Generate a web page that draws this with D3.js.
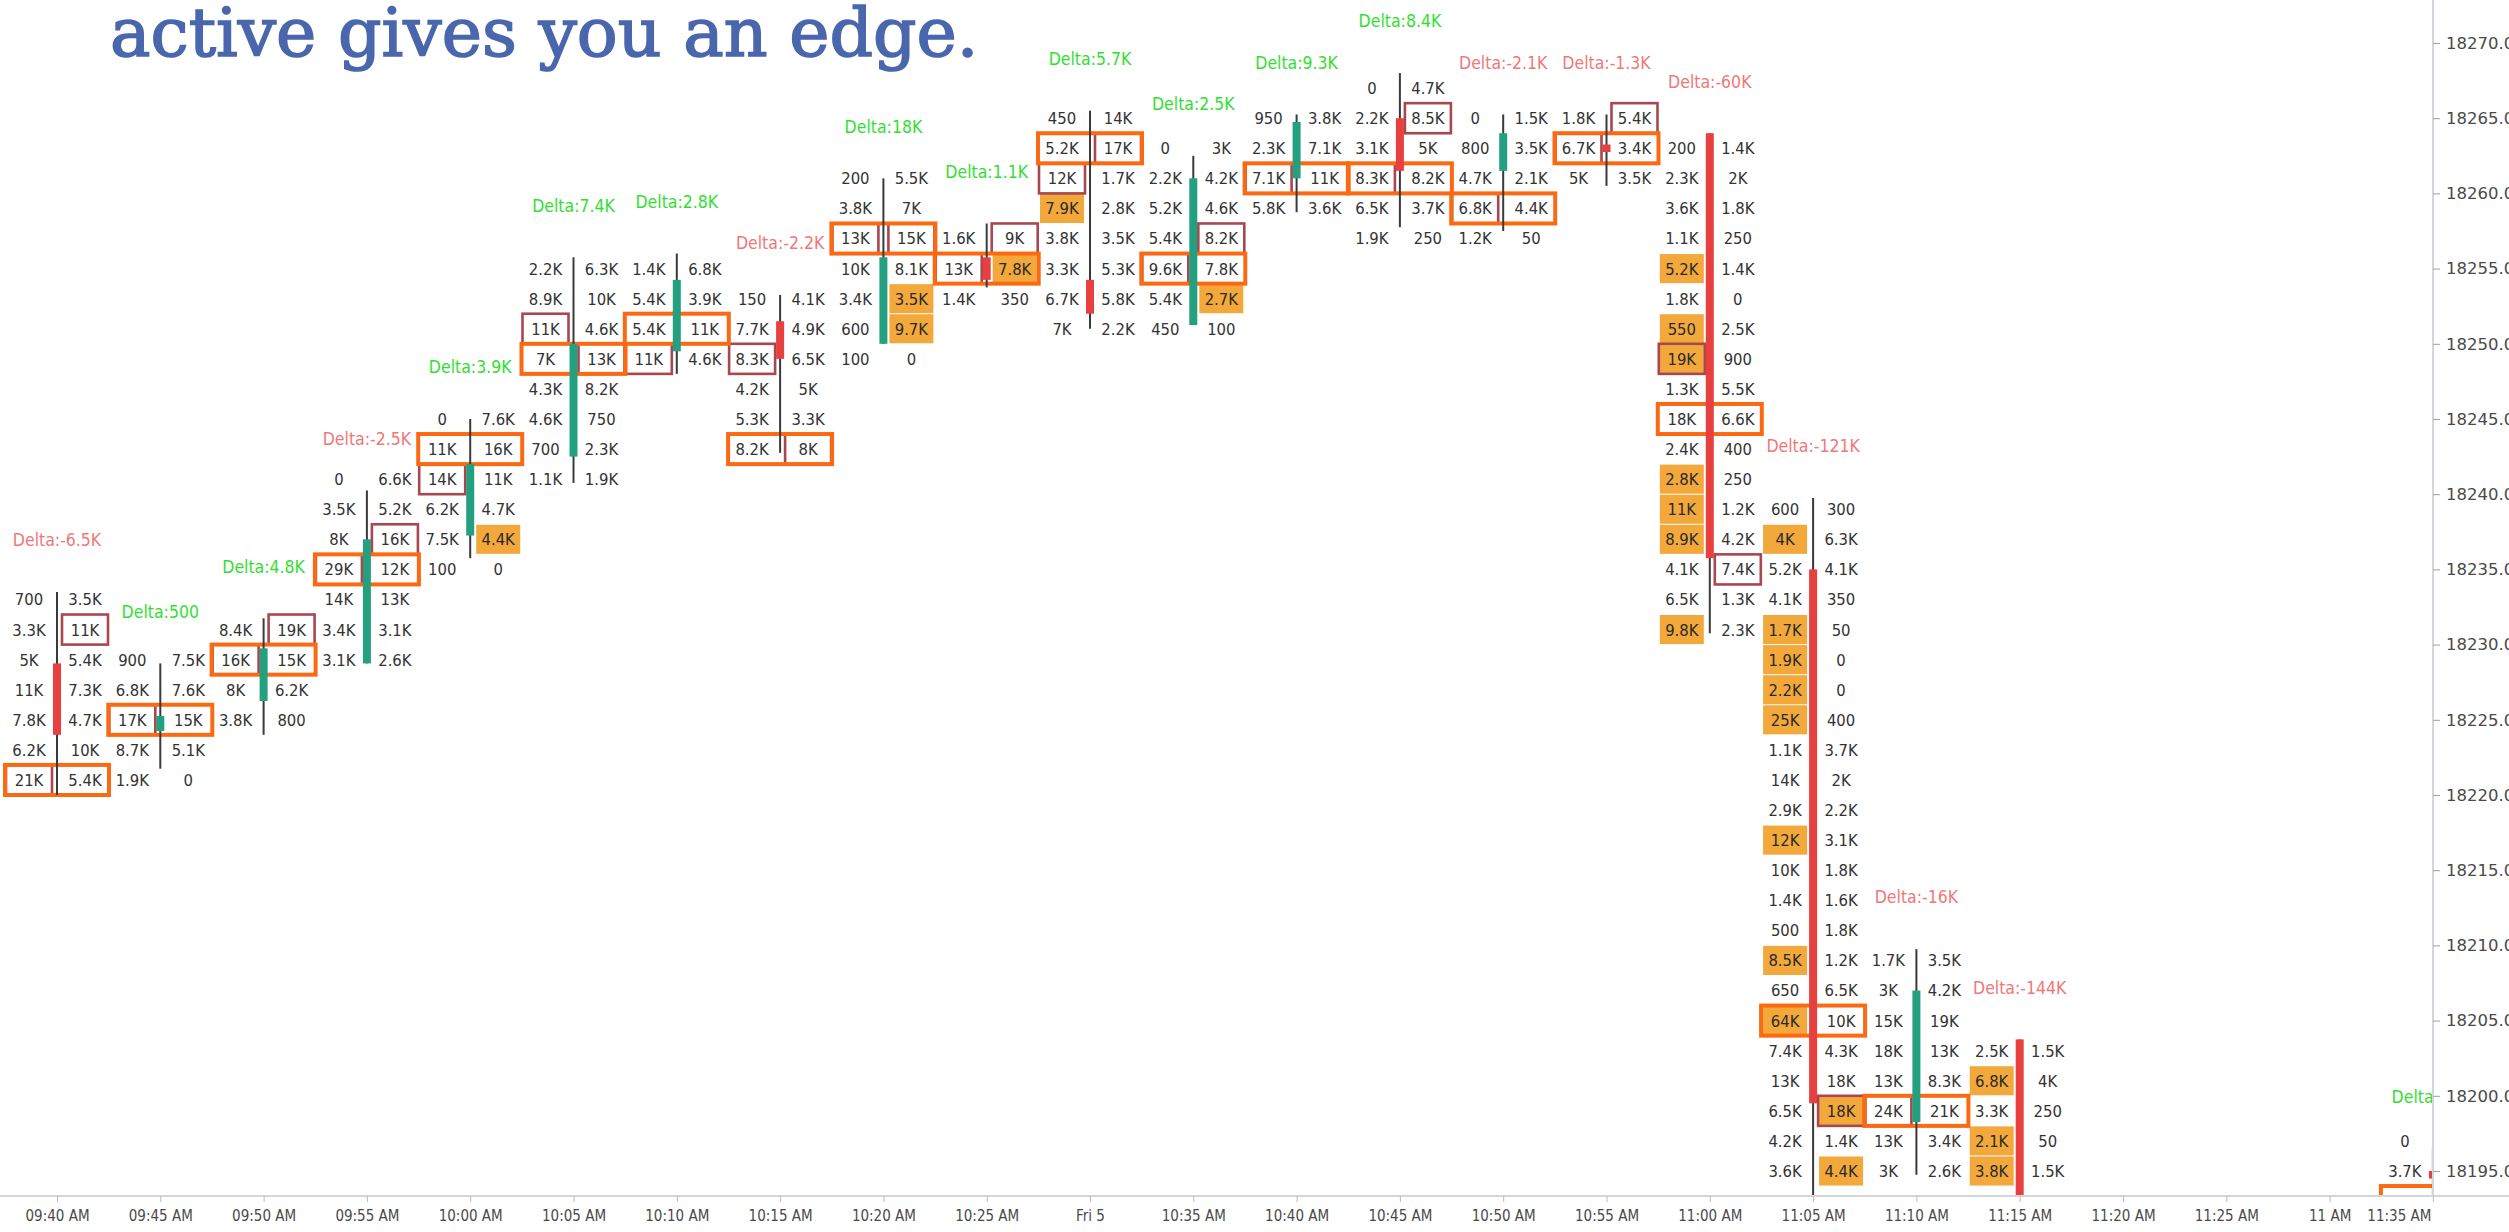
<!DOCTYPE html>
<html><head><meta charset="utf-8">
<script src="https://cdn.jsdelivr.net/npm/d3@7"></script>
<style>
body{margin:0;background:#fff;overflow:hidden}
svg{display:block}
</style>
</head><body>
<svg id="chart" width="2509" height="1232"></svg>
<script>
// ---------- DATA ----------
const tickLabels = ["09:40 AM","09:45 AM","09:50 AM","09:55 AM","10:00 AM","10:05 AM","10:10 AM","10:15 AM","10:20 AM","10:25 AM","Fri 5","10:35 AM","10:40 AM","10:45 AM","10:50 AM","10:55 AM","11:00 AM","11:05 AM","11:10 AM","11:15 AM","11:20 AM","11:25 AM","11 AM","11:35 AM"];
const priceTicks = [18195,18200,18205,18210,18215,18220,18225,18230,18235,18240,18245,18250,18255,18260,18265,18270];

const slots  = [0,1,2,3,4,5,6,7,8,9,10,11,12,13,14,15,16,17,18,19,23];
const opens  = [18228.75,18224.25,18226.25,18228.75,18237.25,18242.5,18249.5,18251.5,18250,18255.75,18254.25,18251.25,18261,18265,18261.5,18263.25,18264,18235,18198.25,18203.75,18195];
const highs  = [18233.5,18228.75,18231.75,18240.25,18245,18255.75,18256,18253.25,18261,18258,18265.5,18262.5,18265.25,18268,18265.25,18265.25,18264,18239.75,18209.75,18203.75,18196.5];
const lows   = [18220,18221.75,18224,18228.75,18235.75,18240.75,18248,18242.75,18250,18253.75,18251,18251.25,18258.75,18257.75,18257.5,18260.5,18230.75,18190,18194.75,18188,18190];
const closes = [18224,18225.25,18229.75,18237,18242,18250,18254.25,18249,18255.75,18254.25,18252,18261,18264.75,18261.5,18264,18262.75,18235.75,18199.5,18207,18190,18194.5];
const deltaLabels = ["Delta:-6.5K","Delta:500","Delta:4.8K","Delta:-2.5K","Delta:3.9K","Delta:7.4K","Delta:2.8K","Delta:-2.2K","Delta:18K","Delta:1.1K","Delta:5.7K","Delta:2.5K","Delta:9.3K","Delta:8.4K","Delta:-2.1K","Delta:-1.3K","Delta:-60K","Delta:-121K","Delta:-16K","Delta:-144K","Delta:2.1K"];

// price of the top footprint row of each candle (rows step down 2 points)
const topRow = [18233,18229,18231,18241,18245,18255,18255,18253,18261,18257,18265,18263,18265,18267,18265,18265,18263,18239,18209,18203,18197];

const bids = [
 ["700","3.3K","5K","11K","7.8K","6.2K","21K"],
 ["900","6.8K","17K","8.7K","1.9K"],
 ["8.4K","16K","8K","3.8K"],
 ["0","3.5K","8K","29K","14K","3.4K","3.1K"],
 ["0","11K","14K","6.2K","7.5K","100"],
 ["2.2K","8.9K","11K","7K","4.3K","4.6K","700","1.1K"],
 ["1.4K","5.4K","5.4K","11K"],
 ["150","7.7K","8.3K","4.2K","5.3K","8.2K"],
 ["200","3.8K","13K","10K","3.4K","600","100"],
 ["1.6K","13K","1.4K"],
 ["450","5.2K","12K","7.9K","3.8K","3.3K","6.7K","7K"],
 ["0","2.2K","5.2K","5.4K","9.6K","5.4K","450"],
 ["950","2.3K","7.1K","5.8K"],
 ["0","2.2K","3.1K","8.3K","6.5K","1.9K"],
 ["0","800","4.7K","6.8K","1.2K"],
 ["1.8K","6.7K","5K"],
 ["200","2.3K","3.6K","1.1K","5.2K","1.8K","550","19K","1.3K","18K","2.4K","2.8K","11K","8.9K","4.1K","6.5K","9.8K"],
 ["600","4K","5.2K","4.1K","1.7K","1.9K","2.2K","25K","1.1K","14K","2.9K","12K","10K","1.4K","500","8.5K","650","64K","7.4K","13K","6.5K","4.2K","3.6K"],
 ["1.7K","3K","15K","18K","13K","24K","13K","3K"],
 ["2.5K","6.8K","3.3K","2.1K","3.8K"],
 ["0","3.7K",""]
];
const asks = [
 ["3.5K","11K","5.4K","7.3K","4.7K","10K","5.4K"],
 ["7.5K","7.6K","15K","5.1K","0"],
 ["19K","15K","6.2K","800"],
 ["6.6K","5.2K","16K","12K","13K","3.1K","2.6K"],
 ["7.6K","16K","11K","4.7K","4.4K","0"],
 ["6.3K","10K","4.6K","13K","8.2K","750","2.3K","1.9K"],
 ["6.8K","3.9K","11K","4.6K"],
 ["4.1K","4.9K","6.5K","5K","3.3K","8K"],
 ["5.5K","7K","15K","8.1K","3.5K","9.7K","0"],
 ["9K","7.8K","350"],
 ["14K","17K","1.7K","2.8K","3.5K","5.3K","5.8K","2.2K"],
 ["3K","4.2K","4.6K","8.2K","7.8K","2.7K","100"],
 ["3.8K","7.1K","11K","3.6K"],
 ["4.7K","8.5K","5K","8.2K","3.7K","250"],
 ["1.5K","3.5K","2.1K","4.4K","50"],
 ["5.4K","3.4K","3.5K"],
 ["1.4K","2K","1.8K","250","1.4K","0","2.5K","900","5.5K","6.6K","400","250","1.2K","4.2K","7.4K","1.3K","2.3K"],
 ["300","6.3K","4.1K","350","50","0","0","400","3.7K","2K","2.2K","3.1K","1.8K","1.6K","1.8K","1.2K","6.5K","10K","4.3K","18K","18K","1.4K","4.4K"],
 ["3.5K","4.2K","19K","13K","8.3K","21K","3.4K","2.6K"],
 ["1.5K","4K","250","50","1.5K"],
 ["","",""]
];
// imbalance marks per row: '.' none, 'f' stacked (filled), 'b' imbalance box, 'x' both
const bidMarks = ["......b","..b..",".b..","...b...","..b...","..b.....","...b","..b...","..b....",".b.","..bf....","....b..","..b.","...b..","...b.",".b.","....f.fx...fff..f",".f..ffff...f...f.f.....",".....b..",".f.ff","..."];
const askMarks = [".b.....",".....","b...","..b....","....f.","...b....","....",".....b","..b.ff.","bf.",".b......","...b.f.","....",".b....",".....","b..","..............b..","....................x.f","........",".....","..."];
// row index of the point of control (highest volume) per candle, -1 = not visible
const pocRow = [6,2,1,3,1,3,2,5,2,1,1,4,2,3,3,1,9,17,5,-1,2];

// ---------- LAYOUT ----------
const W = 2509, H = 1232;
const plotRight = 2433, plotBottom = 1196;
const svg = d3.select("#chart");
const xs = d3.scaleLinear().domain([0, 23]).range([57, 57 + 23 * 103.3]);
const ys = d3.scaleLinear().domain([18270, 18195]).range([43, 43 + 75 * 15.04]);
const rowH = ys(0) - ys(2);

const cellFont = "'DejaVu Sans Condensed','DejaVu Sans',sans-serif";
const C = {
  amber: "#f2a83b", box: "#a9474f", poc: "#fb6a12",
  up: "#22a07f", down: "#e8403f", wick: "#3a3a3a",
  dUp: "#33de33", dDown: "#f07878", text: "#333"
};

svg.append("defs").append("clipPath").attr("id", "plotClip")
  .append("rect").attr("x", 0).attr("y", 0).attr("width", plotRight).attr("height", plotBottom);

const plot = svg.append("g").attr("clip-path", "url(#plotClip)");

const candles = slots.map((s, i) => ({
  i, X: xs(s), o: opens[i], h: highs[i], l: lows[i], c: closes[i],
  delta: deltaLabels[i],
  rows: bids[i].map((b, r) => ({
    price: topRow[i] - 2 * r, bid: b, ask: asks[i][r],
    bm: bidMarks[i][r], am: askMarks[i][r], poc: pocRow[i] === r
  }))
}));

const cells = [];
candles.forEach(cd => cd.rows.forEach(r => {
  cells.push({X: cd.X, side: -1, v: r.bid, m: r.bm, p: r.price});
  cells.push({X: cd.X, side: 1, v: r.ask, m: r.am, p: r.price});
}));

// amber fills
plot.append("g").selectAll("rect").data(cells.filter(d => d.m === "f" || d.m === "x")).join("rect")
  .attr("x", d => d.side < 0 ? d.X - 50 : d.X + 6)
  .attr("y", d => ys(d.p) - rowH / 2 + 0.5)
  .attr("width", 44).attr("height", rowH - 1)
  .attr("fill", C.amber);

// imbalance boxes
plot.append("g").selectAll("rect").data(cells.filter(d => d.m === "b" || d.m === "x")).join("rect")
  .attr("x", d => d.side < 0 ? d.X - 51 : d.X + 5)
  .attr("y", d => ys(d.p) - rowH / 2)
  .attr("width", 46).attr("height", rowH)
  .attr("fill", "none").attr("stroke", C.box).attr("stroke-width", 2.6);

// POC boxes
const pocs = [];
candles.forEach(cd => cd.rows.forEach(r => { if (r.poc) pocs.push({X: cd.X, p: r.price}); }));
plot.append("g").selectAll("rect").data(pocs).join("rect")
  .attr("x", d => d.X - 52).attr("y", d => ys(d.p) - rowH / 2)
  .attr("width", 104).attr("height", rowH)
  .attr("fill", "none").attr("stroke", C.poc).attr("stroke-width", 4);

// cell texts
plot.append("g").selectAll("text").data(cells.filter(d => d.v !== "")).join("text")
  .attr("x", d => d.X + d.side * 28)
  .attr("y", d => ys(d.p))
  .attr("dy", "0.36em")
  .attr("text-anchor", "middle")
  .attr("font-family", cellFont).attr("font-size", 16.5)
  .attr("fill", d => (d.m === "f" || d.m === "x") ? "#2a2a2a" : C.text)
  .text(d => d.v);

// candles
const cg = plot.append("g").selectAll("g").data(candles).join("g");
cg.append("line")
  .attr("x1", d => d.X).attr("x2", d => d.X)
  .attr("y1", d => ys(d.h)).attr("y2", d => ys(d.l))
  .attr("stroke", C.wick).attr("stroke-width", 2);
cg.append("rect")
  .attr("x", d => d.X - 4).attr("width", 8)
  .attr("y", d => ys(Math.max(d.o, d.c)))
  .attr("height", d => Math.max(3, Math.abs(ys(d.o) - ys(d.c))))
  .attr("fill", d => d.c >= d.o ? C.up : C.down);

// delta labels
plot.append("g").selectAll("text").data(candles).join("text")
  .attr("x", d => d.X).attr("y", d => ys(d.h) - 52)
  .attr("dy", "0.36em").attr("text-anchor", "middle")
  .attr("font-family", cellFont).attr("font-size", 17.5)
  .attr("fill", d => d.delta.startsWith("Delta:-") ? C.dDown : C.dUp)
  .text(d => d.delta);

// ---------- AXES ----------
const axisColor = "#d3d6db", labelColor = "#4a4a4a";
svg.append("line").attr("x1", 0).attr("x2", W).attr("y1", plotBottom).attr("y2", plotBottom)
  .attr("stroke", axisColor).attr("stroke-width", 2);
svg.append("line").attr("x1", plotRight).attr("x2", plotRight).attr("y1", 0).attr("y2", plotBottom)
  .attr("stroke", axisColor).attr("stroke-width", 2);

const xAxis = svg.append("g").attr("transform", `translate(0,${plotBottom})`)
  .call(d3.axisBottom(xs).tickValues(d3.range(24)).tickFormat(i => tickLabels[i]).tickSize(6).tickSizeOuter(0).tickPadding(8));
xAxis.select(".domain").remove();
xAxis.selectAll("line").attr("stroke", "#b8bcc2");
xAxis.selectAll("text").attr("font-family", cellFont).attr("font-size", 15).attr("fill", labelColor)
  .attr("text-anchor", (d, i) => i === 23 ? "end" : "middle")
  .attr("dx", (d, i) => i === 23 ? -2 : 0);

const yAxis = svg.append("g").attr("transform", `translate(${plotRight},0)`)
  .call(d3.axisRight(ys).tickValues(priceTicks).tickFormat(d3.format(".2f")).tickSize(7).tickSizeOuter(0).tickPadding(6));
yAxis.select(".domain").remove();
yAxis.selectAll("line").attr("stroke", "#9aa0a8");
yAxis.selectAll("text").attr("font-family", "'DejaVu Sans',sans-serif").attr("font-size", 16.5).attr("fill", labelColor);

// ---------- TITLE (partial, from slide) ----------
svg.append("text").attr("x", 110).attr("y", 56)
  .attr("font-family", "'DejaVu Serif',serif").attr("font-size", 68)
  .attr("fill", "#4a67ad").attr("stroke", "#4a67ad").attr("stroke-width", 1.6)
  .text("active gives you an edge.");
</script>
</body></html>
